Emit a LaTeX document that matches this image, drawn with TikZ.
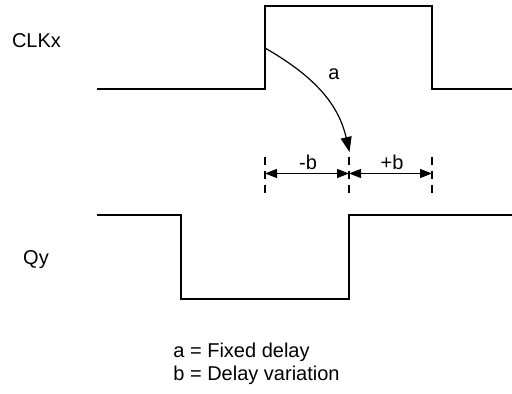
\documentclass[tikz,border=0pt]{standalone}
\usepackage{fontspec}
\setmainfont{Liberation Sans}
\usepackage{tikz}
\usetikzlibrary{arrows.meta,
                positioning}

\tikzset{wave/.style={line width=0.6pt},
         guide/.style={line width=0.7pt, dash pattern=on 4pt off 3pt},
         dimarrow/.style={line width=0.6pt, {Triangle[length=6pt,width=4.5pt]}-{Triangle[length=6pt,width=4.5pt]}},
         lbl/.style={font=\fontsize{10}{12}\selectfont, inner sep=0pt}}

\begin{document}
\begin{tikzpicture}[x=0.5pt, y=0.5pt]
\useasboundingbox (0,0) rectangle (512,394);
% signal names
\node[lbl] (clk) at (36.5,353) {CLKx};
\node[lbl] (q) at (36,134) {Qy};
% clock waveform
\draw[wave] (97,305) -- (265,305) -- (265,388) -- (432,388) -- (432,305) -- (512,305);
% output waveform
\draw[wave] (97,179) -- (181,179) -- (181,95) -- (349,95) -- (349,179) -- (512,179);
% fixed delay
\coordinate (edge) at (265,346);
\coordinate (nominal) at (349.5,242);
\draw[line width=0.6pt, -{Triangle[length=7.5pt,width=5.5pt]}] (edge) to[out=-30, in=103] (nominal);
\node[lbl] (a) at (334,320) {a};
% delay variation
\coordinate (early) at (265,220.5);
\coordinate (mid) at (349,220.5);
\coordinate (late) at (432,220.5);
\draw[guide] (265,237) -- (265,201);
\draw[guide] (349,237) -- (349,201);
\draw[guide] (432,237) -- (432,201);
\draw[dimarrow] (early) -- (mid);
\draw[dimarrow] (mid) -- (late);
\node[lbl] (minusb) at (308,232) {-b};
\node[lbl] (plusb) at (392,232) {+b};
% legend
\node[lbl, anchor=west] (keya) at (173,42) {a = Fixed delay};
\node[lbl, anchor=west] (keyb) at (173,19) {b = Delay variation};
\end{tikzpicture}
\end{document}
